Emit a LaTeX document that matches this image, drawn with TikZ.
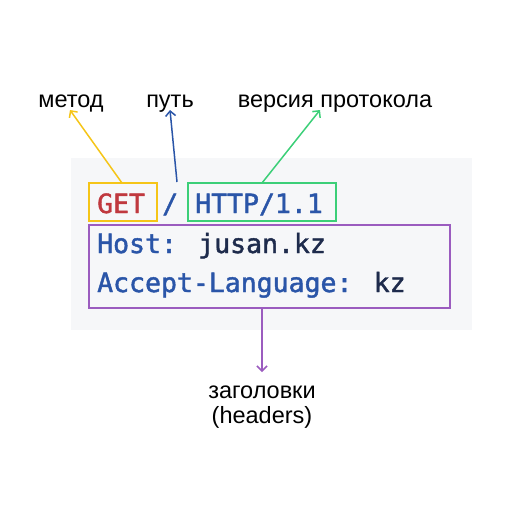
\documentclass[tikz,border=0pt]{standalone}
\usepackage{fontspec}
\setmainfont{Liberation Sans}
\newfontfamily\codefont[RawFeature={embolden=1.6}]{DejaVu Sans Mono}
\usetikzlibrary{arrows.meta}
\definecolor{bgray}{HTML}{F6F7F9}
\definecolor{cred}{HTML}{C0393F}
\definecolor{cblue}{HTML}{2A55A8}
\definecolor{cnavy}{HTML}{1E2B4C}
\definecolor{cyellow}{HTML}{F5C518}
\definecolor{cgreen}{HTML}{3CCF78}
\definecolor{cpurple}{HTML}{9B5CBF}
\tikzset{
  lbl/.style={font=\fontsize{23.5}{25}\selectfont, text=black, inner sep=0pt, anchor=base},
  code/.style={font=\codefont\fontsize{26.5}{30}\selectfont, inner sep=0pt, anchor=base west},
  frame/.style={draw=#1, line width=2pt},
  arr/.style={draw=#1, line width=1.5pt, -{Straight Barb[length=5pt,width=10pt,line width=1.5pt]}}
}
\begin{document}
\begin{tikzpicture}[x=1pt,y=-1pt]
\useasboundingbox (0,0) rectangle (512,512);
\fill[bgray] (71,158) rectangle (472,330);
% code text
\node[code, text=cred] (get) at (97,213) {GET};
\node[code, text=cblue] (slash) at (162,213) {/};
\node[code, text=cblue] (http) at (195,213) {HTTP/1.1};
\node[code] (host) at (97,253) {\textcolor{cblue}{Host:} \textcolor{cnavy}{jusan.kz}};
\node[code] (acc) at (97,292) {\textcolor{cblue}{Accept-Language:} \textcolor{cnavy}{kz}};
% frames
\draw[frame=cyellow] (89,183) rectangle (157,221);
\draw[frame=cgreen] (188,183) rectangle (336,221);
\draw[frame=cpurple] (89,225) rectangle (450,308);
\coordinate (gettop) at (122,183);
\coordinate (slashtop) at (177,182);
\coordinate (httptop) at (262,183);
\coordinate (headbot) at (262,308);
% labels
\node[lbl] (metod) at (71,107) {метод};
\node[lbl] (put) at (170,107) {путь};
\node[lbl] (vers) at (335,107) {версия протокола};
\node[lbl] (zag) at (262,398) {заголовки};
\node[lbl] (hdr) at (262,423) {(headers)};
\coordinate (metodtip) at (70,110);
\coordinate (puttip) at (170,110);
\coordinate (verstip) at (320,110);
\coordinate (zagtip) at (262,372);
% arrows
\draw[arr=cyellow] (gettop) -- (metodtip);
\draw[arr=cblue] (slashtop) -- (puttip);
\draw[arr=cgreen] (httptop) -- (verstip);
\draw[arr=cpurple] (headbot) -- (zagtip);
\end{tikzpicture}
\end{document}
